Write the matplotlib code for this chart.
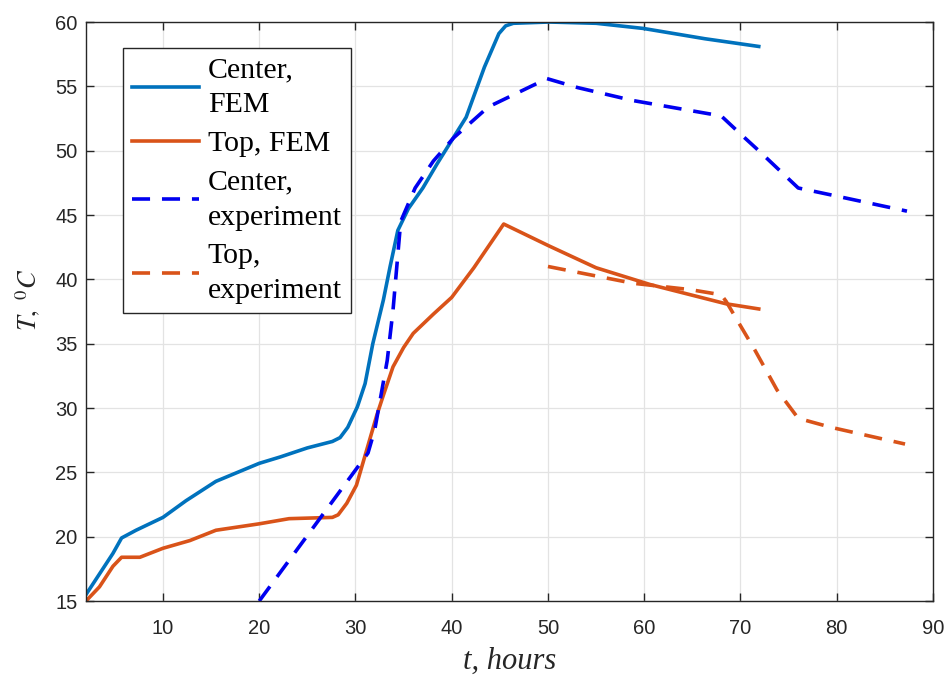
"""Temperature at the center and top of the block: FEM vs experiment."""

import matplotlib

matplotlib.use("Agg")
import matplotlib.pyplot as plt

# Center, FEM
center_fem_t = [2.0, 3.4, 4.8, 5.7, 7.2, 10.0, 12.4, 15.5, 20.0, 22.2, 25.0, 27.6, 28.4,
                29.2, 30.2, 31.0, 31.8, 32.9, 33.6, 34.4, 35.5, 37.0, 38.5, 40.0, 41.5,
                43.4, 44.9, 45.6, 46.4, 50.1, 55.0, 59.9, 66.3, 71.9]
center_fem_T = [15.5, 17.1, 18.7, 19.9, 20.5, 21.5, 22.8, 24.3, 25.7, 26.2, 26.9, 27.4,
                27.7, 28.5, 30.1, 31.9, 35.0, 38.4, 41.0, 43.8, 45.5, 47.1, 49.0, 50.8,
                52.6, 56.5, 59.1, 59.7, 59.9, 60.0, 59.9, 59.5, 58.7, 58.1]

# Top, FEM
top_fem_t = [2.0, 3.4, 4.8, 5.7, 7.6, 10.0, 12.8, 15.5, 20.0, 23.1, 27.6, 28.2, 29.1, 30.1,
             30.8, 31.5, 32.2, 32.9, 33.9, 35.0, 36.0, 37.4, 38.1, 40.0, 42.3, 45.4, 50.1,
             55.0, 60.6, 68.5, 71.9]
top_fem_T = [15.0, 16.1, 17.7, 18.4, 18.4, 19.1, 19.7, 20.5, 21.0, 21.4, 21.5, 21.7, 22.6,
             24.0, 25.8, 27.6, 29.4, 31.0, 33.2, 34.7, 35.8, 36.8, 37.3, 38.6, 40.9, 44.3,
             42.6, 40.9, 39.6, 38.1, 37.7]

# Center, experiment
center_exp_t = [20.0, 31.3, 32.0, 32.75, 33.3, 33.9, 34.7, 36.2, 38.1, 40.2, 43.8, 49.9,
                53.1, 58.8, 68.0, 70.0, 71.9, 76.0, 79.8, 87.3]
center_exp_T = [15.0, 26.5, 28.3, 31.4, 33.7, 37.6, 44.5, 47.1, 49.2, 51.0, 53.4, 55.6,
                54.9, 53.9, 52.7, 51.3, 50.0, 47.1, 46.5, 45.3]

# Top, experiment
top_exp_t = [50.0, 58.8, 64.8, 68.0, 68.5, 69.6, 71.5, 73.8, 76.0, 79.4, 87.1]
top_exp_T = [41.0, 39.7, 39.2, 38.8, 38.3, 36.9, 34.5, 31.4, 29.2, 28.5, 27.2]

C_BLUE = "#0072BD"
C_ORANGE = "#D95319"
C_PURE = "#0000F0"

plt.rcParams["mathtext.fontset"] = "stix"
SERIF = "Liberation Serif"

fig = plt.figure(figsize=(9.49, 6.75), dpi=100)
ax = fig.add_axes([0.0906, 0.1096, 0.8925, 0.8578])

lw = 2.6
dash = (5, 3.3)
ax.plot(center_fem_t, center_fem_T, color=C_BLUE, lw=lw, label="Center,\nFEM")
ax.plot(top_fem_t, top_fem_T, color=C_ORANGE, lw=lw, label="Top, FEM")
ax.plot(center_exp_t, center_exp_T, color=C_PURE, lw=lw, dashes=dash,
        label="Center,\nexperiment")
ax.plot(top_exp_t, top_exp_T, color=C_ORANGE, lw=lw, dashes=dash,
        label="Top,\nexperiment")

ax.set_xlim(2, 90)
ax.set_ylim(15, 60)
ax.set_xticks(range(10, 91, 10))
ax.set_yticks(range(15, 61, 5))
ax.grid(True, color="#e3e3e3", lw=0.9)
ax.set_axisbelow(True)
for s in ax.spines.values():
    s.set_color("#262626")
    s.set_linewidth(1.0)
ax.tick_params(direction="in", top=True, right=True, length=6, width=1.0,
               colors="#262626", labelsize=14.5)
ax.tick_params(axis="x", pad=13)
ax.tick_params(axis="y", pad=6)
for lab in ax.get_xticklabels() + ax.get_yticklabels():
    lab.set_family("Liberation Sans")

ax.set_xlabel("t, hours", family=SERIF, style="italic", fontsize=22, color="#262626",
              labelpad=6)
ax.set_ylabel(r"$T,\ ^{0}C$", fontsize=19, color="#262626")
ax.yaxis.set_label_coords(-0.052, 0.52)

leg = ax.legend(loc="upper left", bbox_to_anchor=(0.044, 0.955), borderaxespad=0,
                prop={"family": SERIF, "size": 21.5}, handlelength=2.25, handletextpad=0.28,
                labelspacing=0.4, borderpad=0.3, fancybox=False, framealpha=1,
                edgecolor="#262626")
leg.get_frame().set_linewidth(1.0)
for t in leg.get_texts():
    t.set_linespacing(1.47)

fig.savefig("out.png", dpi=100)
